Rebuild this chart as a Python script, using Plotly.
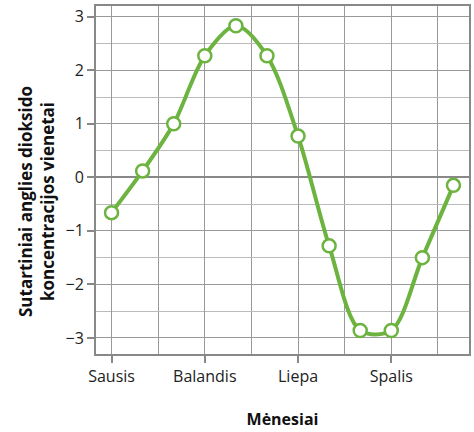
import plotly.graph_objects as go

months = [1, 2, 3, 4, 5, 6, 7, 8, 9, 10, 11, 12]
values = [-0.66, 0.12, 1.0, 2.27, 2.83, 2.27, 0.77, -1.28, -2.86, -2.86, -1.5, -0.15]
tick_vals = [1, 4, 7, 10]
tick_text = ["Sausis", "Balandis", "Liepa", "Spalis"]
y_ticks = [-3, -2, -1, 0, 1, 2, 3]
y_text = ["\u22123", "\u22122", "\u22121", "0", "1", "2", "3"]

green = "#6db33f"
font = "Open Sans"

fig = go.Figure()
fig.add_trace(go.Scatter(
    x=months, y=values, mode="lines+markers",
    line=dict(color=green, width=4, shape="spline", smoothing=0.9),
    marker=dict(size=13, color="white", line=dict(color=green, width=2.5)),
    showlegend=False, hoverinfo="skip",
))

fig.update_layout(
    width=474, height=432,
    margin=dict(l=96, r=3, t=6, b=78),
    plot_bgcolor="white", paper_bgcolor="white",
    font=dict(family=font, size=15, color="#222"),
)
fig.update_xaxes(
    range=[0.5, 12.5], tickmode="array", tickvals=tick_vals, ticktext=tick_text,
    ticks="outside", ticklen=7, tickcolor="#888", tickwidth=2,
    tickfont=dict(size=16),
    showgrid=True, gridcolor="#999", gridwidth=1,
    minor=dict(tick0=1, dtick=1.5, showgrid=True, gridcolor="#999", gridwidth=1, ticks=""),
    showline=True, linecolor="#888", linewidth=2, mirror=True,
    zeroline=False,
    title=dict(text="<b>Mėnesiai</b>", font=dict(family=font, size=16, color="#111"), standoff=28),
)
fig.update_yaxes(
    range=[-3.3, 3.2], tickmode="array", tickvals=y_ticks, ticktext=y_text,
    ticks="outside", ticklen=7, tickcolor="#888", tickwidth=2,
    tickfont=dict(size=16),
    showgrid=True, gridcolor="#999", gridwidth=1.2,
    minor=dict(dtick=0.5, showgrid=True, gridcolor="#bbb", gridwidth=1, ticks=""),
    showline=True, linecolor="#888", linewidth=2, mirror=True,
    zeroline=True, zerolinecolor="#888", zerolinewidth=2,
)
fig.add_annotation(
    text="<b>Sutartiniai anglies dioksido<br>koncentracijos vienetai</b>",
    xref="paper", yref="paper", x=-0.158, y=0.437,
    xanchor="center", yanchor="middle", textangle=-90, showarrow=False,
    font=dict(family=font, size=17, color="#111"),
)

fig.write_html("out.html", post_script="document.body.style.margin='0';",
               config={"displayModeBar": False})
